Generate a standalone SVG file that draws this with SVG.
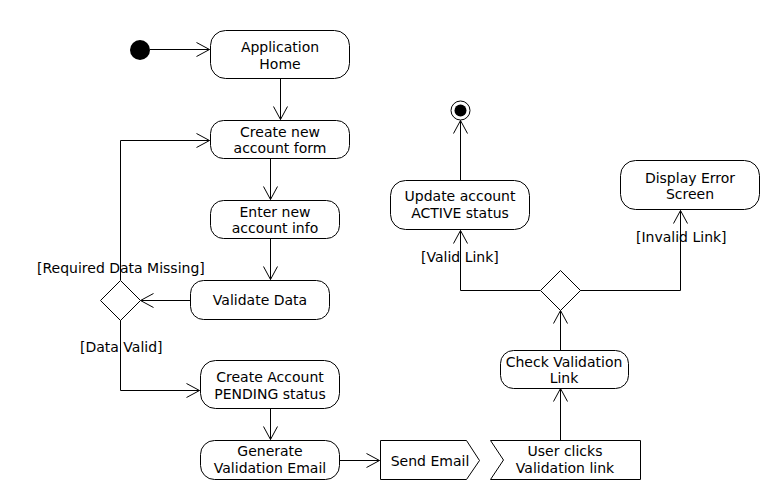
<svg xmlns="http://www.w3.org/2000/svg" width="780" height="500" viewBox="0 0 780 500">
<style>
.n{fill:#fff;stroke:#000;stroke-width:1}
.t{font-family:"DejaVu Sans",sans-serif;font-size:14px;fill:#000;text-anchor:middle}
.l{font-family:"DejaVu Sans",sans-serif;font-size:14px;fill:#000}
.c{fill:none;stroke:#000;stroke-width:1}
</style>
<defs>
<marker id="a" markerUnits="userSpaceOnUse" markerWidth="16" markerHeight="18" viewBox="-15 -9 16 18" refX="0" refY="0" orient="auto">
<path d="M-13,-7 L0,0 L-13,7" fill="none" stroke="#000" stroke-width="1"/>
</marker>
</defs>
<rect width="780" height="500" fill="#fff"/>
<g id="connectors">
<path class="c" d="M150,49.5 H209.5" marker-end="url(#a)"/>
<path class="c" d="M280.5,78 V119.5" marker-end="url(#a)"/>
<path class="c" d="M270.5,158 V199.5" marker-end="url(#a)"/>
<path class="c" d="M270.5,238 V279.5" marker-end="url(#a)"/>
<path class="c" d="M190,300.5 H140.5" marker-end="url(#a)"/>
<path class="c" d="M120.5,280 V140.5 H209.5" marker-end="url(#a)"/>
<path class="c" d="M120.5,320 V390.5 H199.5" marker-end="url(#a)"/>
<path class="c" d="M270.5,408 V439.5" marker-end="url(#a)"/>
<path class="c" d="M340,460.5 H379.5" marker-end="url(#a)"/>
<path class="c" d="M560.5,440 V388.5" marker-end="url(#a)"/>
<path class="c" d="M560.5,350 V310.5" marker-end="url(#a)"/>
<path class="c" d="M540,290.5 H460.5 V230.5" marker-end="url(#a)"/>
<path class="c" d="M580,290.5 H680.5 V210.5" marker-end="url(#a)"/>
<path class="c" d="M460.5,180 V120.5" marker-end="url(#a)"/>
<text class="l" x="37" y="273">[Required Data Missing]</text>
<text class="l" x="80" y="352">[Data Valid]</text>
<text class="l" x="421" y="262">[Valid Link]</text>
<text class="l" x="636" y="242">[Invalid Link]</text>
</g>
<g id="start"><circle cx="140" cy="50" r="10" fill="#000"/></g>
<g id="end"><circle class="n" cx="460.5" cy="110.5" r="9.5"/><circle cx="460.5" cy="110.5" r="6" fill="#000"/></g>
<g id="appHome"><rect class="n" x="210.5" y="30.5" width="139" height="48" rx="15"/><text class="t" x="280" y="52">Application</text><text class="t" x="280" y="69">Home</text></g>
<g id="createForm"><rect class="n" x="210.5" y="120.5" width="139" height="38" rx="13"/><text class="t" x="280" y="137">Create new</text><text class="t" x="280" y="153">account form</text></g>
<g id="enterInfo"><rect class="n" x="210.5" y="200.5" width="129" height="38" rx="13"/><text class="t" x="275" y="217">Enter new</text><text class="t" x="275" y="233">account info</text></g>
<g id="validate"><rect class="n" x="190.5" y="280.5" width="139" height="39" rx="13"/><text class="t" x="260" y="305">Validate Data</text></g>
<g id="decision1"><polygon class="n" points="120.5,280.5 140.5,300.5 120.5,320.5 100.5,300.5"/></g>
<g id="createAccount"><rect class="n" x="200.5" y="360.5" width="139" height="48" rx="15"/><text class="t" x="270" y="382">Create Account</text><text class="t" x="270" y="399">PENDING status</text></g>
<g id="generate"><rect class="n" x="200.5" y="440.5" width="139" height="39" rx="14"/><text class="t" x="270" y="456">Generate</text><text class="t" x="270" y="473">Validation Email</text></g>
<g id="sendEmail"><polygon class="n" points="380.5,440.5 466.5,440.5 479.5,460.5 466.5,479.5 380.5,479.5"/><text class="t" x="430" y="466">Send Email</text></g>
<g id="userClicks"><polygon class="n" points="490.5,440.5 640.5,440.5 640.5,479.5 490.5,479.5 503.5,460"/><text class="t" x="565" y="456">User clicks</text><text class="t" x="565" y="473">Validation link</text></g>
<g id="checkLink"><rect class="n" x="500.5" y="350.5" width="128" height="38" rx="13"/><text class="t" x="564" y="367">Check Validation</text><text class="t" x="564" y="383">Link</text></g>
<g id="decision2"><polygon class="n" points="560.5,270.5 580.5,290.5 560.5,310.5 540.5,290.5"/></g>
<g id="updateActive"><rect class="n" x="390.5" y="180.5" width="139" height="49" rx="15"/><text class="t" x="460" y="201">Update account</text><text class="t" x="460" y="218">ACTIVE status</text></g>
<g id="errorScreen"><rect class="n" x="620.5" y="160.5" width="139" height="49" rx="15"/><text class="t" x="690" y="183">Display Error</text><text class="t" x="690" y="199">Screen</text></g>
</svg>
